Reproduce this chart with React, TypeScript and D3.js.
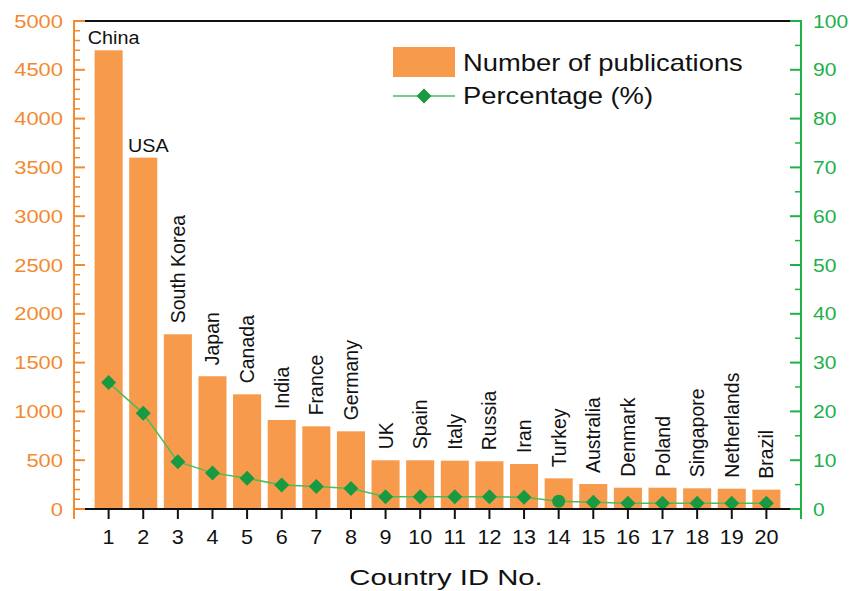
import React from "react";
import * as d3 from "d3";

const countries = ["China", "USA", "South Korea", "Japan", "Canada", "India", "France", "Germany", "UK", "Spain", "Italy", "Russia", "Iran", "Turkey", "Australia", "Denmark", "Poland", "Singapore", "Netherlands", "Brazil"];
const countryIds = [1, 2, 3, 4, 5, 6, 7, 8, 9, 10, 11, 12, 13, 14, 15, 16, 17, 18, 19, 20];
const publications = [4700, 3600, 1790, 1360, 1175, 912, 847, 796, 499, 499, 495, 489, 461, 314, 256, 218, 218, 212, 208, 198];
const percentages = [25.9, 19.6, 9.7, 7.4, 6.3, 4.9, 4.6, 4.2, 2.5, 2.5, 2.5, 2.5, 2.4, 1.6, 1.4, 1.2, 1.2, 1.2, 1.2, 1.2];
const leftTicks = [0, 500, 1000, 1500, 2000, 2500, 3000, 3500, 4000, 4500, 5000];
const rightTicks = [0, 10, 20, 30, 40, 50, 60, 70, 80, 90, 100];
const legendLabels = ["Number of publications", "Percentage (%)"];
const xTitle = "Country ID No.";

const W = 850, H = 591;
const L = 74, R = 801, T = 21, B = 509;
const ORANGE_TXT = "#F28A30";
const ORANGE_BAR = "#F79A4B";
const GREEN_AX = "#22B04B";
const GREEN_MK = "#189A42";
const GREEN_LN = "#4DBA5C";
const FONT = "'Liberation Sans', Arial, Helvetica, sans-serif";

type TP = { x: number; y: number; sx?: number; rot?: number; anchor?: string; size: number; fill?: string; children: React.ReactNode };
function Txt({ x, y, sx = 1, rot = 0, anchor = "start", size, fill = "#111", children }: TP) {
  const tr = `translate(${x},${y}) scale(${sx},1)` + (rot ? ` rotate(${rot})` : "");
  return (
    <text transform={tr} textAnchor={anchor as any} fontSize={size} fontFamily={FONT} fill={fill}>
      {children}
    </text>
  );
}

export default function App() {
  const x = d3.scaleLinear().domain([0, 21]).range([L, R]);
  const yL = d3.scaleLinear().domain([0, 5000]).range([B, T]);
  const yR = d3.scaleLinear().domain([0, 100]).range([B, T]);
  const step = x(1) - x(0);
  const bw = step * 0.81;
  const minorL = d3.range(0, 5001, 100).filter((v) => v % 500 !== 0);
  const minorR = d3.range(0, 101, 5).filter((v) => v % 10 !== 0);
  const xTicks = d3.range(0, 22);
  const line = d3
    .line<number>()
    .x((_, i) => x(countryIds[i]))
    .y((d) => yR(d));
  const diamond = (cx: number, cy: number, r: number) => `M${cx},${cy - r}L${cx + r},${cy}L${cx},${cy + r}L${cx - r},${cy}Z`;

  return (
    <svg width={W} height={H} style={{ position: "absolute", left: 0, top: 0, background: "#fff" }}>
      {/* bars */}
      {publications.map((v, i) => (
        <rect key={"b" + i} x={x(countryIds[i]) - bw / 2} y={yL(v)} width={bw} height={B - yL(v)} fill={ORANGE_BAR} />
      ))}
      {/* country labels */}
      {publications.map((v, i) =>
        i < 2 ? (
          <Txt key={"c" + i} x={x(countryIds[i]) + 5} y={yL(v) - 6} size={18.5} sx={1.07} anchor="middle">
            {countries[i]}
          </Txt>
        ) : (
          <Txt key={"c" + i} x={x(countryIds[i]) + 7} y={yL(v) - 11} size={19.5} rot={-90} anchor="start">
            {countries[i]}
          </Txt>
        )
      )}
      {/* percentage line */}
      <path d={line(percentages) || ""} fill="none" stroke={GREEN_LN} strokeWidth={1.5} />
      {percentages.map((p, i) =>
        i === 13 ? (
          <circle key={"m" + i} cx={x(countryIds[i])} cy={yR(p)} r={6.5} fill={GREEN_MK} />
        ) : (
          <path key={"m" + i} d={diamond(x(countryIds[i]), yR(p), 7.5)} fill={GREEN_MK} />
        )
      )}
      {/* frame */}
      <line x1={L} x2={R} y1={T} y2={T} stroke="#111" strokeWidth={2} />
      <line x1={L} x2={R} y1={B} y2={B} stroke="#111" strokeWidth={2} />
      {/* x ticks */}
      {xTicks.map((t) => (
        <line key={"xt" + t} x1={x(t)} x2={x(t)} y1={B} y2={B + 10} stroke="#111" strokeWidth={2} />
      ))}
      {countryIds.map((t) => (
        <Txt key={"xl" + t} x={x(t)} y={544} size={20} sx={1.08} anchor="middle">
          {String(t)}
        </Txt>
      ))}
      <Txt x={446} y={585} size={22.5} sx={1.3} anchor="middle">
        {xTitle}
      </Txt>
      {/* left axis */}
      <line x1={L} x2={L} y1={T - 1} y2={B + 10} stroke={ORANGE_TXT} strokeWidth={2} />
      {leftTicks.map((t) => (
        <line key={"lt" + t} x1={L} x2={L + 11} y1={yL(t)} y2={yL(t)} stroke={ORANGE_TXT} strokeWidth={2} />
      ))}
      {minorL.map((t) => (
        <line key={"lm" + t} x1={L} x2={L + 6} y1={yL(t)} y2={yL(t)} stroke={ORANGE_TXT} strokeWidth={1.5} />
      ))}
      {leftTicks.map((t) => (
        <Txt key={"ll" + t} x={63} y={yL(t) + 6.5} size={18} sx={1.22} anchor="end" fill={ORANGE_TXT}>
          {String(t)}
        </Txt>
      ))}
      {/* right axis */}
      <line x1={R} x2={R} y1={T - 1} y2={B + 10} stroke={GREEN_AX} strokeWidth={2} />
      {rightTicks.map((t) => (
        <line key={"rt" + t} x1={R} x2={R - 11} y1={yR(t)} y2={yR(t)} stroke={GREEN_AX} strokeWidth={2} />
      ))}
      {minorR.map((t) => (
        <line key={"rm" + t} x1={R} x2={R - 6} y1={yR(t)} y2={yR(t)} stroke={GREEN_AX} strokeWidth={1.5} />
      ))}
      {rightTicks.map((t) => (
        <Txt key={"rl" + t} x={813} y={yR(t) + 6.5} size={18} sx={1.17} anchor="start" fill={GREEN_AX}>
          {String(t)}
        </Txt>
      ))}
      {/* legend */}
      <rect x={393} y={47} width={62} height={30} fill={ORANGE_BAR} />
      <line x1={393} x2={455} y1={96} y2={96} stroke={GREEN_LN} strokeWidth={1.5} />
      <path d={diamond(424, 96, 7.5)} fill={GREEN_MK} />
      <Txt x={463} y={71} size={23} sx={1.19} fill="#111">
        {legendLabels[0]}
      </Txt>
      <Txt x={463} y={104} size={23} sx={1.19} fill="#111">
        {legendLabels[1]}
      </Txt>
    </svg>
  );
}
